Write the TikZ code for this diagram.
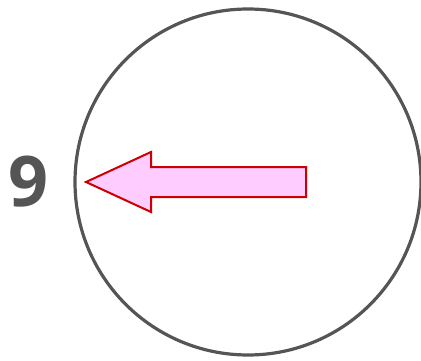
\documentclass[tikz,border=0pt]{standalone}
\usepackage{fontspec}
\setmainfont{Open Sans}
\definecolor{dialgray}{RGB}{85, 85, 85}
\definecolor{handred}{RGB}{204, 0, 0}
\definecolor{handpink}{RGB}{255, 204, 255}

\begin{document}
\begin{tikzpicture}[
    x=1pt, y=-1pt,
    dial/.style={circle, draw=dialgray, line width=3.2pt, minimum size=346pt, inner sep=0pt},
    hand/.style={draw=handred, fill=handpink, line width=2pt, line join=miter},
    hour/.style={font=\fontsize{70}{70}\selectfont\bfseries, text=dialgray, inner sep=0pt}
]
\useasboundingbox (0, 0) rectangle (421, 361);

% zifferblatt
\node[dial] (face) at (248, 182) {};

% zeiger
\draw[hand] (86, 182) -- (151, 152) -- (151, 167) -- (306, 167)
    -- (306, 197) -- (151, 197) -- (151, 212) -- cycle;

% stunde
\node[hour] (nine) at (28.5, 182) {9};

\end{tikzpicture}
\end{document}
